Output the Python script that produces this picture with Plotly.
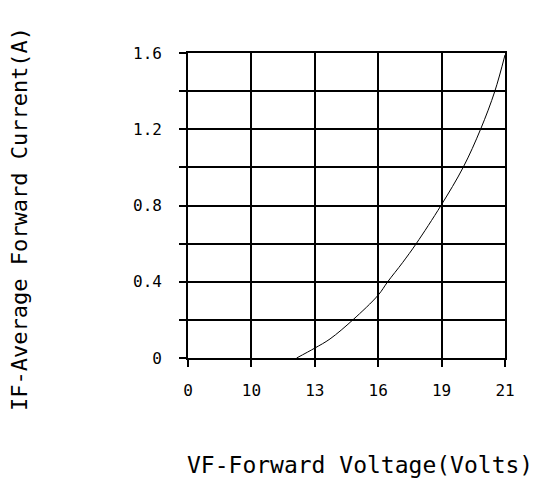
import numpy as np
import plotly.graph_objects as go

# Axis ticks (volts shown at equally spaced positions)
tick_volts = [0, 10, 13, 16, 19, 21]
tick_labels = ["0", "10", "13", "16", "19", "21"]
y_ticks = [0, 0.2, 0.4, 0.6, 0.8, 1.0, 1.2, 1.4, 1.6]
y_labels = ["0", "", "0.4", "", "0.8", "", "1.2", "", "1.6"]

# Curve
vf_volts = [12.14, 13.0, 13.72, 14.8, 16.0, 16.45, 17.15, 17.8, 18.97, 19.68, 20.23, 20.68, 21.0]
if_amps = [0.0, 0.052, 0.1, 0.2, 0.33, 0.4, 0.5, 0.6, 0.8, 1.0, 1.2, 1.4, 1.59]

positions = list(range(len(tick_volts)))
x_pos = np.interp(vf_volts, tick_volts, positions)

FONT = "DejaVu Sans Mono"

fig = go.Figure()
fig.add_trace(go.Scatter(x=x_pos, y=if_amps, mode="lines",
                         line=dict(color="black", width=1, shape="spline", smoothing=1.0),
                         hoverinfo="skip", showlegend=False))

axis_common = dict(showgrid=True, gridcolor="black", gridwidth=1.6,
                   showline=True, linecolor="black", linewidth=1.6, mirror=True,
                   ticks="outside", ticklen=7, tickcolor="black", tickwidth=1.6,
                   zeroline=False)
fig.update_xaxes(range=[0, 5], tickvals=positions, ticktext=tick_labels,
                 ticklabelstandoff=10,
                 tickfont=dict(family=FONT, size=16, color="black"), **axis_common)
fig.update_yaxes(range=[0, 1.6], tickvals=y_ticks, ticktext=y_labels,
                 ticklabelstandoff=14,
                 tickfont=dict(family=FONT, size=16, color="black"), **axis_common)

fig.add_annotation(text="VF-Forward Voltage(Volts)", xref="paper", yref="paper",
                   x=(360 - 188) / (505 - 188), y=-(465 - 358) / (358 - 53),
                   showarrow=False, xanchor="center", yanchor="middle",
                   font=dict(family=FONT, size=23, color="black"))
fig.add_annotation(text="IF-Average Forward Current(A)", xref="paper", yref="paper",
                   x=-(188 - 19) / (505 - 188), y=(358 - 219) / (358 - 53),
                   showarrow=False, xanchor="center", yanchor="middle", textangle=-90,
                   font=dict(family=FONT, size=22, color="black"))

# page body has an 8px margin, so the figure is sized/offset to compensate
fig.update_layout(width=535, height=480,
                  margin=dict(l=180, r=38, t=45, b=130),
                  plot_bgcolor="white", paper_bgcolor="white")

fig.write_html("out.html")
